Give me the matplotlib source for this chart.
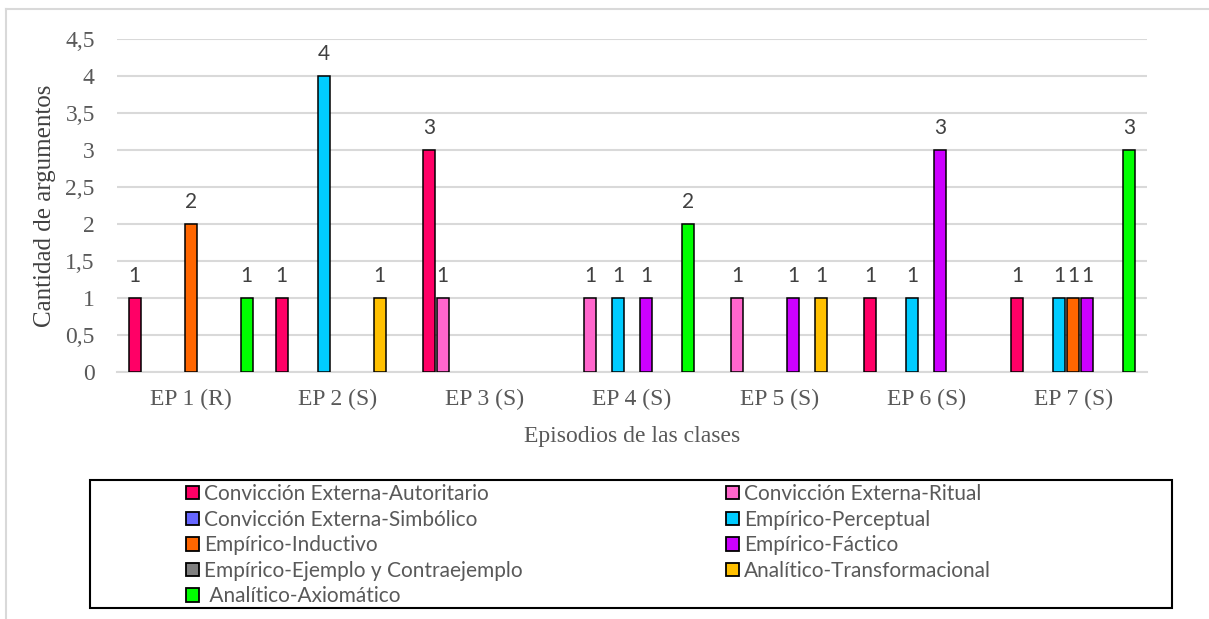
import matplotlib.pyplot as plt
import numpy as np
from matplotlib.lines import Line2D
from matplotlib.patches import Rectangle, Patch
from matplotlib.ticker import FuncFormatter

episodes = ["EP 1 (R)", "EP 2 (S)", "EP 3 (S)", "EP 4 (S)", "EP 5 (S)", "EP 6 (S)", "EP 7 (S)"]

autoritario = [1, 1, 3, 0, 0, 1, 1]
ritual = [0, 0, 1, 1, 1, 0, 0]
simbolico = [0, 0, 0, 0, 0, 0, 0]
perceptual = [0, 4, 0, 1, 0, 1, 1]
inductivo = [2, 0, 0, 0, 0, 0, 1]
factico = [0, 0, 0, 1, 1, 3, 1]
ejemplo = [0, 0, 0, 0, 0, 0, 0]
transformacional = [0, 1, 0, 0, 1, 0, 0]
axiomatico = [1, 0, 0, 2, 0, 0, 3]

series = [autoritario, ritual, simbolico, perceptual, inductivo,
          factico, ejemplo, transformacional, axiomatico]
names = ["Convicción Externa-Autoritario", "Convicción Externa-Ritual",
         "Convicción Externa-Simbólico", "Empírico-Perceptual",
         "Empírico-Inductivo", "Empírico-Fáctico",
         "Empírico-Ejemplo y Contraejemplo", "Analítico-Transformacional",
         " Analítico-Axiomático"]
colors = ["#FF0066", "#FF66CC", "#6666FF", "#00CCFF", "#FF6600",
          "#CC00FF", "#808080", "#FFC000", "#00FF00"]

W, H = 1209, 619
fig = plt.figure(figsize=(W / 100, H / 100), dpi=100)
ax = fig.add_axes([117 / W, 1 - 372 / H, (1147 - 117) / W, (372 - 39) / H])

x = np.arange(len(episodes))
step = 14 / 147
width = 12 / 147
for k, (vals, col) in enumerate(zip(series, colors)):
    pos = x + (k - 4) * step
    for xi, v in zip(pos, vals):
        if v == 0:
            continue
        ax.bar(xi, v, width=width, color=col, edgecolor="black", linewidth=1.1, zorder=3)
        ax.annotate(str(v), (xi, v), xytext=(0, 9), textcoords="offset points",
                    ha="center", va="bottom", fontsize=15, family="Lato",
                    color="#404040")

ax.set_xlim(-0.5, len(episodes) - 0.5)
ax.set_ylim(0, 4.5)
ax.set_yticks(np.arange(0, 4.51, 0.5))
ax.yaxis.set_major_formatter(FuncFormatter(lambda v, p: ("%g" % v).replace(".", ",")))
ax.set_xticks(x)
ax.set_xticklabels(episodes)
ax.grid(axis="y", color="#D9D9D9", linewidth=1.5, zorder=0)
for s in ["left", "right", "top"]:
    ax.spines[s].set_visible(False)
ax.spines["bottom"].set_color("#D9D9D9")
ax.spines["bottom"].set_linewidth(1.5)
ax.tick_params(length=0, labelsize=17, labelcolor="#595959")
ax.tick_params(axis="x", pad=12)
ax.tick_params(axis="y", pad=16)
for lab in ax.get_xticklabels() + ax.get_yticklabels():
    lab.set_family("Liberation Serif")

ax.set_xlabel("Episodios de las clases", family="Liberation Serif", fontsize=17,
              color="#595959", labelpad=12)
ax.set_ylabel("Cantidad de argumentos", family="Liberation Serif", fontsize=18,
              color="#404040", labelpad=7)

# outer chart frame (only top and left visible)
fig.add_artist(Line2D([6 / W, 6 / W], [0, 1 - 9 / H], color="#D9D9D9", linewidth=1.5))
fig.add_artist(Line2D([6 / W, 1], [1 - 9 / H, 1 - 9 / H], color="#D9D9D9", linewidth=1.5))

# legend box
fig.add_artist(Rectangle((90 / W, 1 - 608 / H), (1172 - 90) / W, (608 - 480) / H,
                         fill=False, edgecolor="black", linewidth=1.5,
                         transform=fig.transFigure))

handles = [Patch(facecolor=c, edgecolor="black", linewidth=1.3) for c in colors]
leg_kw = dict(frameon=False, prop={"family": "Lato", "size": 15},
              handlelength=0.62, handleheight=0.62, handletextpad=0.25,
              labelspacing=0.27, borderpad=0, borderaxespad=0,
              labelcolor="#595959", loc="upper left")
fig.legend([handles[i] for i in range(0, 9, 2)], [names[i] for i in range(0, 9, 2)],
           bbox_to_anchor=(186 / W, 1 - 484 / H), **leg_kw)
fig.legend([handles[i] for i in range(1, 9, 2)], [names[i] for i in range(1, 9, 2)],
           bbox_to_anchor=(726 / W, 1 - 484 / H), **leg_kw)

fig.savefig("out.png", dpi=100)
